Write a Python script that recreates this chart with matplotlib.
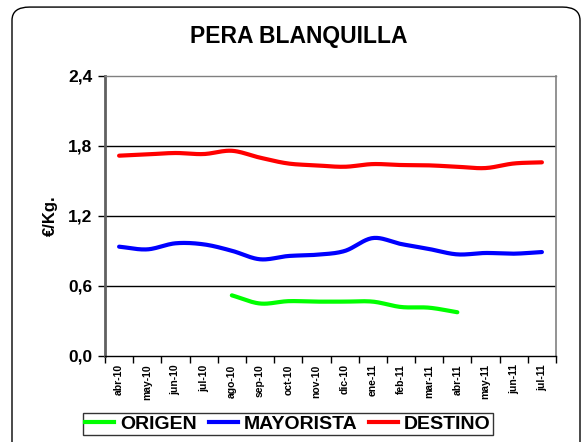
import numpy as np
import matplotlib
matplotlib.use("Agg")
import matplotlib.pyplot as plt
from matplotlib.patches import FancyBboxPatch
from matplotlib.lines import Line2D

plt.rcParams['font.family'] = ['Liberation Sans', 'DejaVu Sans']

months = ["abr-10", "may-10", "jun-10", "jul-10", "ago-10", "sep-10", "oct-10",
          "nov-10", "dic-10", "ene-11", "feb-11", "mar-11", "abr-11", "may-11",
          "jun-11", "jul-11"]

origen = [None, None, None, None, 0.52, 0.45, 0.47, 0.466, 0.466, 0.466,
          0.42, 0.414, 0.375, None, None, None]
mayorista = [0.937, 0.914, 0.966, 0.957, 0.902, 0.829, 0.857, 0.868, 0.90,
             1.011, 0.96, 0.917, 0.871, 0.883, 0.877, 0.891]
destino = [1.717, 1.728, 1.74, 1.731, 1.759, 1.70, 1.65, 1.634, 1.622, 1.645,
           1.637, 1.634, 1.622, 1.611, 1.65, 1.66]

yticks = [0.0, 0.6, 1.2, 1.8, 2.4]
ytick_labels = ["0,0", "0,6", "1,2", "1,8", "2,4"]


def smooth(xs, ys, n=20):
    """Catmull-Rom curve through the points, like a smoothed line series."""
    xs = np.asarray(xs, float)
    ys = np.asarray(ys, float)
    px = np.concatenate([[2 * xs[0] - xs[1]], xs, [2 * xs[-1] - xs[-2]]])
    py = np.concatenate([[2 * ys[0] - ys[1]], ys, [2 * ys[-1] - ys[-2]]])
    ox, oy = [], []
    t = np.linspace(0, 1, n, endpoint=False)
    for i in range(1, len(px) - 2):
        for arr, out in ((px, ox), (py, oy)):
            p0, p1, p2, p3 = arr[i - 1], arr[i], arr[i + 1], arr[i + 2]
            out.extend(0.5 * ((2 * p1) + (-p0 + p2) * t
                              + (2 * p0 - 5 * p1 + 4 * p2 - p3) * t ** 2
                              + (-p0 + 3 * p1 - 3 * p2 + p3) * t ** 3))
    ox.append(xs[-1])
    oy.append(ys[-1])
    return np.array(ox), np.array(oy)


fig = plt.figure(figsize=(5.83, 4.42), dpi=100)

# rounded outer frame
frame = FancyBboxPatch((12 / 583, -0.05), 568 / 583, 1.034,
                       boxstyle="round,pad=0,rounding_size=0.03",
                       transform=fig.transFigure, fill=False,
                       edgecolor="black", linewidth=1.0, clip_on=False)
fig.patches.append(frame)

ax = fig.add_axes([105 / 583, 1 - 356 / 442, (556 - 105) / 583, (356 - 76) / 442])

series = [("ORIGEN", origen, "#00ff00"),
          ("MAYORISTA", mayorista, "#0000ff"),
          ("DESTINO", destino, "#ff0000")]
for name, vals, color in series:
    idx = [i for i, v in enumerate(vals) if v is not None]
    sx, sy = smooth(idx, [vals[i] for i in idx])
    ax.plot(sx, sy, color=color, linewidth=3.0, solid_capstyle="round", zorder=3)

ax.set_xlim(-0.5, len(months) - 0.5)
ax.set_ylim(0, 2.4)

for y in yticks[1:-1]:
    ax.axhline(y, color="black", linewidth=1.0, zorder=1)

ax.set_yticks(yticks)
ax.set_yticklabels(ytick_labels, fontsize=12.5, fontweight="bold")
ax.tick_params(axis="y", length=5, width=1, direction="out", pad=4)

ax.set_xticks(range(len(months)))
ax.set_xticklabels(months, rotation=90, fontsize=7.5, fontweight="bold")
ax.set_xticks(np.arange(-0.5, len(months)), minor=True)
ax.tick_params(axis="x", which="major", length=0, pad=6)
ax.tick_params(axis="x", which="minor", length=5, width=1, direction="out")

ax.spines["left"].set_color("#606060")
ax.spines["left"].set_linewidth(2.0)
ax.spines["right"].set_color("#808080")
ax.spines["right"].set_linewidth(1.2)
ax.spines["top"].set_color("#808080")
ax.spines["top"].set_linewidth(1.0)
ax.spines["bottom"].set_color("black")
ax.spines["bottom"].set_linewidth(1.0)

ax.set_ylabel("€/Kg.", fontsize=12, fontweight="bold", labelpad=7)

fig.text(299 / 583, 1 - 37 / 442, "PERA BLANQUILLA", ha="center", va="center",
         fontsize=16.5, fontweight="bold")

handles = [Line2D([0], [0], color=c, linewidth=3.0) for _, _, c in series]
leg = fig.legend(handles, [n for n, _, _ in series], loc="center",
                 bbox_to_anchor=(288 / 583, 1 - 424 / 442), ncol=3,
                 frameon=True, fancybox=False, edgecolor="black",
                 prop={"size": 14, "weight": "bold"}, handlelength=1.5,
                 handletextpad=0.3, columnspacing=0.6, borderpad=0.1,
                 borderaxespad=0.2)
leg.get_frame().set_linewidth(1.0)

fig.savefig("out.png", dpi=100)
